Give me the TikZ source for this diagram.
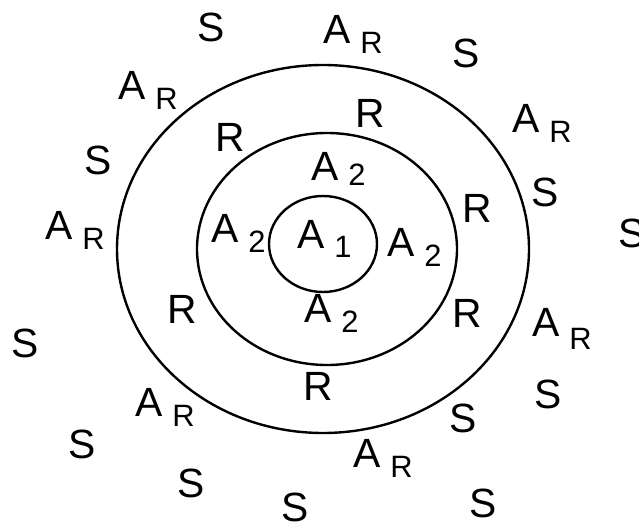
\documentclass[tikz,border=0pt]{standalone}
\usepackage{fontspec}
\setmainfont{Liberation Sans}
\usetikzlibrary{positioning}
\newcommand{\sublab}[3][10bp]{#2\hspace{10bp}\raisebox{-#1}{\fontsize{31}{31}\selectfont #3}}

\begin{document}
\begin{tikzpicture}[x=1bp, y=-1bp,
  ring/.style={line width=2.4bp},
  lab/.style={anchor=base west, inner sep=0pt, font=\fontsize{41}{42}\selectfont}]
  \clip (0,0) rectangle (639,525);
  % the three rings
  \draw[ring] (323,249) ellipse [x radius=206, y radius=184];
  \draw[ring] (327,249) ellipse [x radius=130, y radius=116];
  \draw[ring] (323,244) ellipse [x radius=54, y radius=48];
  % centre and inner ring
  \node[lab] (a1)  at (297,249) {\sublab[8bp]{A}{1}};
  \node[lab] (a2t) at (311,181) {\sublab[5bp]{A}{2}};
  \node[lab] (a2l) at (211,243) {\sublab{A}{2}};
  \node[lab] (a2r) at (387,256) {\sublab{A}{2}};
  \node[lab] (a2b) at (304,322) {\sublab{A}{2}};
  % between middle and outer ring
  \node[lab] (r1) at (215,152) {R};
  \node[lab] (r2) at (355,128) {R};
  \node[lab] (r3) at (462,223) {R};
  \node[lab] (r4) at (167,323) {R};
  \node[lab] (r5) at (452,327) {R};
  \node[lab] (r6) at (303,400) {R};
  % outside
  \node[lab] (ar1) at (118,100) {\sublab{A}{R}};
  \node[lab] (ar2) at (323,44)  {\sublab{A}{R}};
  \node[lab] (ar3) at (512,133) {\sublab{A}{R}};
  \node[lab] (ar4) at (45,240)  {\sublab{A}{R}};
  \node[lab] (ar5) at (532,336) {\sublab[13bp]{A}{R}};
  \node[lab] (ar6) at (135,416) {\sublab{A}{R}};
  \node[lab] (ar7) at (353,467) {\sublab{A}{R}};
  \node[lab] (s1)  at (197,42)  {S};
  \node[lab] (s2)  at (452,68)  {S};
  \node[lab] (s3)  at (84,175)  {S};
  \node[lab] (s4)  at (531,207) {S};
  \node[lab] (s5)  at (618,248) {S};
  \node[lab] (s6)  at (11,357)  {S};
  \node[lab] (s7)  at (534,408) {S};
  \node[lab] (s8)  at (449,432) {S};
  \node[lab] (s9)  at (68,458)  {S};
  \node[lab] (s10) at (177,497) {S};
  \node[lab] (s11) at (281,521) {S};
  \node[lab] (s12) at (469,517) {S};
\end{tikzpicture}
\end{document}
